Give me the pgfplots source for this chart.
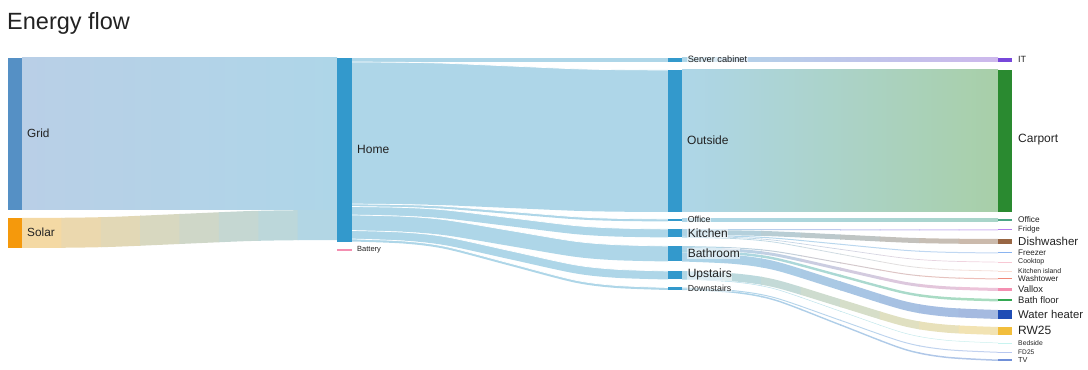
\documentclass[border=0pt]{standalone}
\usepackage{fontspec}
\setmainfont{Liberation Sans}
\usepackage{pgfplots}
\pgfplotsset{compat=1.18}
\usepgfplotslibrary{fillbetween}
\definecolor{labC}{HTML}{222222}
\definecolor{nodeBlue}{HTML}{3399CC}
\definecolor{flowBlue}{HTML}{AED6E8}
\definecolor{gridC}{HTML}{5590C5}
\definecolor{lGrid}{HTML}{B9CFE7}
\definecolor{solarC}{HTML}{F5990C}
\definecolor{lSolar}{HTML}{F9D9A0}
\definecolor{carportC}{HTML}{2A8A30}
\definecolor{lCarport}{HTML}{A8CFA8}
\definecolor{itC}{HTML}{7747DA}
\definecolor{lIT}{HTML}{CDB8EC}
\definecolor{officeC}{HTML}{4CA585}
\definecolor{lOffice}{HTML}{A9D5C8}
\definecolor{fridgeC}{HTML}{B57BEF}
\definecolor{lFridge}{HTML}{D4B8F4}
\definecolor{dishC}{HTML}{986644}
\definecolor{lDish}{HTML}{CDB8A8}
\definecolor{freezerC}{HTML}{8AB4F0}
\definecolor{lFreezer}{HTML}{C4D8F4}
\definecolor{cookC}{HTML}{F8C8D4}
\definecolor{lCook}{HTML}{F4D4DE}
\definecolor{islandC}{HTML}{FADBD0}
\definecolor{lIsland}{HTML}{F8E2DA}
\definecolor{washC}{HTML}{F08878}
\definecolor{lWash}{HTML}{F2BEB6}
\definecolor{valloxC}{HTML}{F48FB1}
\definecolor{lVallox}{HTML}{F0C2D8}
\definecolor{bathC}{HTML}{34A853}
\definecolor{lBath}{HTML}{A8DCBC}
\definecolor{waterC}{HTML}{1F4DB5}
\definecolor{lWater}{HTML}{A4B8E0}
\definecolor{rwC}{HTML}{F2BE3C}
\definecolor{lRW}{HTML}{F6E4B0}
\definecolor{bedC}{HTML}{C8F4F0}
\definecolor{lBed}{HTML}{CFF2EE}
\definecolor{fdC}{HTML}{B8C8F0}
\definecolor{lFD}{HTML}{C4D2F0}
\definecolor{tvC}{HTML}{7090D8}
\definecolor{lTV}{HTML}{B0C4E8}
\definecolor{battC}{HTML}{F48FB1}
\newcommand{\fs}[1]{\fontsize{#1bp}{#1bp}\selectfont}
% one vertical slice of a flow band, solid colour
\newcommand{\slice}[6]{%
\addplot[draw=none, fill=#6!#4!#5] fill between[of=#1t and #1b, soft clip={domain=#2:#3}];
}
% column 2 -> 3 flow with stepped colour gradient
\newcommand{\flow}[5]{%
\addplot[draw=none, smooth, name path=#1t] coordinates {#2};
\addplot[draw=none, smooth, name path=#1b] coordinates {#3};
\slice{#1}{640}{722.5}{6}{#4}{#5}
\slice{#1}{721.5}{762}{19}{#4}{#5}
\slice{#1}{761}{801.5}{31}{#4}{#5}
\slice{#1}{800.5}{841}{44}{#4}{#5}
\slice{#1}{840}{880.5}{56}{#4}{#5}
\slice{#1}{879.5}{920}{69}{#4}{#5}
\slice{#1}{919}{959.5}{81}{#4}{#5}
\slice{#1}{958.5}{1040}{94}{#4}{#5}
}
% column 1 -> 2 flow, single colour, white seam on top
\newcommand{\sflow}[4]{%
\addplot[draw=white, line width=0.7bp, smooth, name path=#1t] coordinates {#2};
\addplot[draw=none, smooth, name path=#1b] coordinates {#3};
\addplot[draw=none, fill=#4] fill between[of=#1t and #1b];
}
\newcommand{\nbar}[5]{%
\addplot[draw=none, fill=#5] coordinates {(#1,#3) (#2,#3) (#2,#4) (#1,#4)};
}
\newcommand{\lab}[4]{\node[anchor=west, inner sep=0pt, text=labC, font={\fs{#3}}] at (axis cs:#1,#2) {#4};}
\newcommand{\labw}[4]{\node[anchor=west, inner sep=0.6pt, text=labC, fill=white, fill opacity=0.55, text opacity=1, font={\fs{#3}}] at (axis cs:#1,#2) {#4};}
\begin{document}
\begin{tikzpicture}
\begin{axis}[width=1088bp, height=370bp, scale only axis,
  xmin=0, xmax=1088, ymin=0, ymax=370, y dir=reverse,
  hide axis, clip=false]
\addplot[draw=none] coordinates {(0,0) (1088,370)};
% ---- column 0 -> 1
\addplot[draw=none, left color=lGrid, right color=flowBlue] coordinates {(22,58) (337,58) (337,210) (22,210)};
\addplot[draw=none, smooth, name path=solart] coordinates {(22,218)(74.3,217.66)(115.6,216.75)(179.5,214)(243.4,211.25)(284.7,210.34)(337,210)(345,210)};
\addplot[draw=none, smooth, name path=solarb] coordinates {(22,248)(74.3,247.66)(115.6,246.75)(179.5,244)(243.4,241.25)(284.7,240.34)(337,240)(345,240)};
\slice{solar}{0}{62.4}{6}{lSolar}{flowBlue}
\slice{solar}{61.4}{101.8}{19}{lSolar}{flowBlue}
\slice{solar}{100.8}{141.1}{31}{lSolar}{flowBlue}
\slice{solar}{140.1}{180.5}{44}{lSolar}{flowBlue}
\slice{solar}{179.5}{219.9}{56}{lSolar}{flowBlue}
\slice{solar}{218.9}{259.3}{69}{lSolar}{flowBlue}
\slice{solar}{258.3}{298.6}{81}{lSolar}{flowBlue}
\addplot[draw=none, fill=flowBlue!94!lSolar] coordinates {(297.6,210.25) (316,210.08) (345,210) (345,240) (316,240.08) (297.6,240.25)};
% ---- column 1 -> 2
\addplot[draw=none, fill=flowBlue] coordinates {(352,58) (668,58) (668,62) (352,62)};
\sflow{outside}{(352,62)(404.5,62.34)(445.9,63.25)(510,66)(574.1,68.75)(615.5,69.66)(668,70)}{(352,204)(404.5,204.34)(445.9,205.25)(510,208)(574.1,210.75)(615.5,211.66)(668,212)}{flowBlue}
\sflow{office}{(352,204)(404.5,204.65)(445.9,206.34)(510,211.5)(574.1,216.66)(615.5,218.36)(668,219)}{(352,206.5)(404.5,207.15)(445.9,208.84)(510,214)(574.1,219.16)(615.5,220.86)(668,221.5)}{flowBlue}
\sflow{kitchen}{(352,206.5)(404.5,207.47)(445.9,210.01)(510,217.75)(574.1,225.49)(615.5,228.03)(668,229)}{(352,215)(404.5,215.97)(445.9,218.51)(510,226.25)(574.1,233.99)(615.5,236.53)(668,237.5)}{flowBlue}
\sflow{bathroom}{(352,215)(404.5,216.33)(445.9,219.84)(510,230.5)(574.1,241.16)(615.5,244.67)(668,246)}{(352,230.5)(404.5,231.83)(445.9,235.34)(510,246)(574.1,256.66)(615.5,260.17)(668,261.5)}{flowBlue}
\sflow{upstairs}{(352,230.5)(404.5,232.24)(445.9,236.82)(510,250.75)(574.1,264.68)(615.5,269.26)(668,271)}{(352,239)(404.5,240.74)(445.9,245.32)(510,259.25)(574.1,273.18)(615.5,277.76)(668,279.5)}{flowBlue}
\sflow{downstairs}{(352,239)(404.5,241.09)(445.9,246.57)(510,263.25)(574.1,279.93)(615.5,285.41)(668,287.5)}{(352,241.5)(404.5,243.59)(445.9,249.07)(510,265.75)(574.1,282.43)(615.5,287.91)(668,290)}{flowBlue}
% ---- column 2 -> 3
\addplot[draw=none, left color=flowBlue, right color=lIT] coordinates {(682,58) (998,58) (998,62) (682,62)};
\addplot[draw=none, left color=flowBlue, right color=lCarport] coordinates {(682,70) (998,70) (998,212) (682,212)};
\addplot[draw=none, left color=flowBlue, right color=lOffice] coordinates {(682,219) (998,219) (998,221.5) (682,221.5)};
\flow{fridge}{(682,229)(734.5,229.02)(775.9,229.08)(840,229.25)(904.1,229.42)(945.5,229.48)(998,229.5)}{(682,230)(734.5,230.02)(775.9,230.08)(840,230.25)(904.1,230.42)(945.5,230.48)(998,230.5)}{flowBlue}{lFridge}
\flow{dish}{(682,230)(734.5,230.39)(775.9,231.4)(840,234.5)(904.1,237.6)(945.5,238.61)(998,239)}{(682,235)(734.5,235.39)(775.9,236.4)(840,239.5)(904.1,242.6)(945.5,243.61)(998,244)}{flowBlue}{lDish}
\flow{freezer}{(682,235)(734.5,235.75)(775.9,237.73)(840,243.75)(904.1,249.77)(945.5,251.75)(998,252.5)}{(682,236)(734.5,236.75)(775.9,238.73)(840,244.75)(904.1,250.77)(945.5,252.75)(998,253.5)}{flowBlue}{lFreezer}
\flow{cook}{(682,236)(734.5,237.11)(775.9,240.02)(840,248.9)(904.1,257.78)(945.5,260.69)(998,261.8)}{(682,236.7)(734.5,237.81)(775.9,240.72)(840,249.6)(904.1,258.48)(945.5,261.39)(998,262.5)}{flowBlue}{lCook}
\flow{island}{(682,236.7)(734.5,238.16)(775.9,241.99)(840,253.65)(904.1,265.31)(945.5,269.14)(998,270.6)}{(682,237.5)(734.5,238.96)(775.9,242.79)(840,254.45)(904.1,266.11)(945.5,269.94)(998,271.4)}{flowBlue}{lIsland}
\flow{wash}{(682,246)(734.5,247.4)(775.9,251.07)(840,262.25)(904.1,273.43)(945.5,277.1)(998,278.5)}{(682,247)(734.5,248.4)(775.9,252.07)(840,263.25)(904.1,274.43)(945.5,278.1)(998,279.5)}{flowBlue}{lWash}
\flow{vallox}{(682,247)(734.5,248.76)(775.9,253.4)(840,267.5)(904.1,281.6)(945.5,286.24)(998,288)}{(682,250)(734.5,251.76)(775.9,256.4)(840,270.5)(904.1,284.6)(945.5,289.24)(998,291)}{flowBlue}{lVallox}
\flow{bath}{(682,250)(734.5,252.11)(775.9,257.64)(840,274.5)(904.1,291.36)(945.5,296.89)(998,299)}{(682,252.5)(734.5,254.61)(775.9,260.14)(840,277)(904.1,293.86)(945.5,299.39)(998,301.5)}{flowBlue}{lBath}
\flow{water}{(682,252.5)(734.5,254.97)(775.9,261.47)(840,281.25)(904.1,301.03)(945.5,307.53)(998,310)}{(682,261.5)(734.5,263.97)(775.9,270.47)(840,290.25)(904.1,310.03)(945.5,316.53)(998,319)}{flowBlue}{lWater}
\flow{rw}{(682,271)(734.5,273.41)(775.9,279.74)(840,299)(904.1,318.26)(945.5,324.59)(998,327)}{(682,279)(734.5,281.41)(775.9,287.74)(840,307)(904.1,326.26)(945.5,332.59)(998,335)}{flowBlue}{lRW}
\flow{bed}{(682,279)(734.5,281.74)(775.9,288.94)(840,310.85)(904.1,332.76)(945.5,339.96)(998,342.7)}{(682,279.5)(734.5,282.24)(775.9,289.44)(840,311.35)(904.1,333.26)(945.5,340.46)(998,343.2)}{flowBlue}{lBed}
\flow{fd}{(682,287.5)(734.5,290.26)(775.9,297.53)(840,319.65)(904.1,341.77)(945.5,349.04)(998,351.8)}{(682,288.5)(734.5,291.26)(775.9,298.53)(840,320.65)(904.1,342.77)(945.5,350.04)(998,352.8)}{flowBlue}{lFD}
\flow{tv}{(682,288.5)(734.5,291.55)(775.9,299.58)(840,324)(904.1,348.42)(945.5,356.45)(998,359.5)}{(682,290)(734.5,293.05)(775.9,301.08)(840,325.5)(904.1,349.92)(945.5,357.95)(998,361)}{flowBlue}{lTV}
% ---- node bars
\nbar{8}{22}{58}{210}{gridC}
\nbar{8}{22}{218}{248}{solarC}
\nbar{337}{352}{58}{241.7}{nodeBlue}
\addplot[battC, line width=1.2bp] coordinates {(337,250) (352,250)};
\nbar{668}{682}{58}{62}{nodeBlue}
\nbar{668}{682}{70}{212}{nodeBlue}
\nbar{668}{682}{219}{221.5}{nodeBlue}
\nbar{668}{682}{229}{237.5}{nodeBlue}
\nbar{668}{682}{246}{261.5}{nodeBlue}
\nbar{668}{682}{271}{279.5}{nodeBlue}
\nbar{668}{682}{287.5}{290}{nodeBlue}
\nbar{998}{1012}{58}{62}{itC}
\nbar{998}{1012}{70}{212}{carportC}
\nbar{998}{1012}{219}{221.5}{officeC}
\nbar{998}{1012}{229.5}{230.5}{fridgeC}
\nbar{998}{1012}{239}{244}{dishC}
\nbar{998}{1012}{252.5}{253.5}{freezerC}
\nbar{998}{1012}{261.8}{262.5}{cookC}
\nbar{998}{1012}{270.6}{271.4}{islandC}
\nbar{998}{1012}{278.5}{279.5}{washC}
\nbar{998}{1012}{288}{291}{valloxC}
\nbar{998}{1012}{299}{301.5}{bathC}
\nbar{998}{1012}{310}{319}{waterC}
\nbar{998}{1012}{327}{335}{rwC}
\nbar{998}{1012}{342.7}{343.2}{bedC}
\nbar{998}{1012}{351.8}{352.8}{fdC}
\nbar{998}{1012}{359.5}{361}{tvC}
% ---- labels
\node[anchor=base west, inner sep=0pt, text=labC, font={\fs{23.5}}] at (axis cs:7,29) {Energy flow};
\lab{27}{133}{11.8}{Grid}
\lab{27}{232}{11.8}{Solar}
\lab{357}{149}{12}{Home}
\lab{357}{250}{7.5}{Battery}
\labw{687}{59.5}{9.2}{Server cabinet}
\lab{687}{140}{12}{Outside}
\labw{687}{219.5}{8.7}{Office}
\labw{687}{233}{12}{Kitchen}
\labw{687}{253.5}{12}{Bathroom}
\labw{687}{274.5}{12}{Upstairs}
\labw{687}{288.3}{8.8}{Downstairs}
\lab{1018}{59.5}{9}{IT}
\lab{1018}{140}{12}{Carport}
\lab{1018}{219.8}{8.3}{Office}
\lab{1018}{229.8}{7.6}{Fridge}
\lab{1018}{241.3}{11.5}{Dishwasher}
\lab{1018}{252.8}{8.1}{Freezer}
\lab{1018}{262}{7}{Cooktop}
\lab{1018}{270.8}{6.9}{Kitchen island}
\lab{1018}{279}{8.1}{Washtower}
\lab{1018}{289.3}{9.4}{Vallox}
\lab{1018}{300.2}{9.5}{Bath floor}
\lab{1018}{314.3}{11.3}{Water heater}
\lab{1018}{330.8}{12}{RW25}
\lab{1018}{343}{6.8}{Bedside}
\lab{1018}{352.2}{6.6}{FD25}
\lab{1018}{360.3}{7.3}{TV}
\end{axis}
\end{tikzpicture}
\end{document}
